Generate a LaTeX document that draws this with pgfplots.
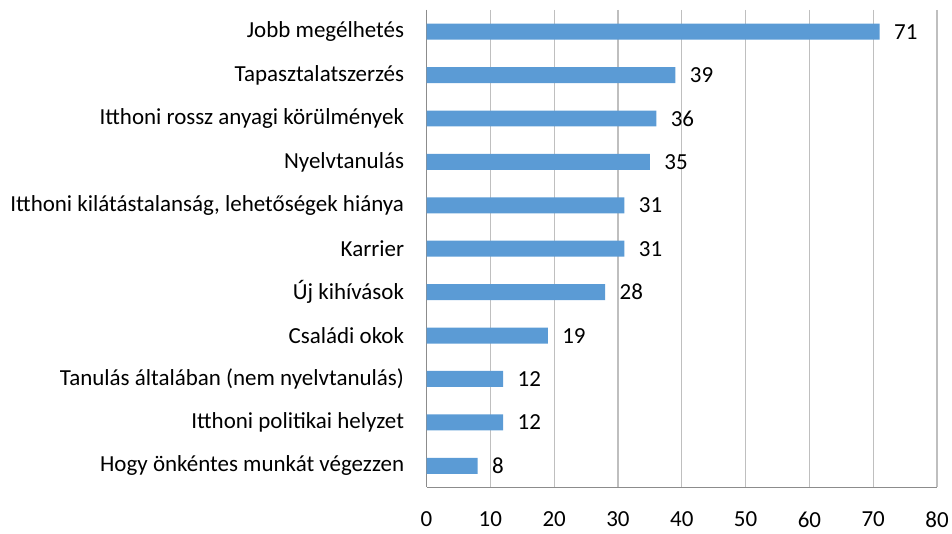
\documentclass[border=0pt]{standalone}
\usepackage{pgfplots}
\pgfplotsset{compat=1.18}
\usepackage{fontspec}
\setmainfont{Carlito}
\definecolor{barblue}{HTML}{5B9BD5}
\definecolor{gridgray}{HTML}{BFBFBF}
\definecolor{axisgray}{HTML}{8C8C8C}
\begin{document}%
\begin{tikzpicture}[font=\fontsize{23}{27}\selectfont]
\begin{axis}[
  scale only axis,
  width=511pt, height=478pt,
  xbar, bar width=16pt,
  xmin=0, xmax=80,
  ymin=-0.5, ymax=10.5,
  y dir=reverse,
  xtick={0,10,...,80},
  ytick={0,...,10},
  yticklabels={Jobb megélhetés, Tapasztalatszerzés, Itthoni rossz anyagi körülmények, Nyelvtanulás, {Itthoni kilátástalanság, lehetőségek hiánya}, Karrier, Új kihívások, Családi okok, Tanulás általában (nem nyelvtanulás), Itthoni politikai helyzet, Hogy önkéntes munkát végezzen},
  /pgf/number format/assume math mode=true,
  ticklabel style={font=\fontsize{23}{27}\selectfont},
  xticklabel style={yshift=-21pt},
  yticklabel style={xshift=-19pt},
  major tick length=0pt,
  xmajorgrids, grid style={gridgray, line width=1.2pt},
  axis x line*=bottom, axis y line*=left,
  axis line style={axisgray, line width=1.5pt},
  x axis line style={-}, y axis line style={-},
  clip=false,
  nodes near coords,
  point meta=x,
  nodes near coords style={anchor=west, xshift=11pt, font=\fontsize{23}{27}\selectfont, black},
]
\addplot[fill=barblue, draw=none] coordinates {
(71,0) (39,1) (36,2) (35,3) (31,4) (31,5) (28,6) (19,7) (12,8) (12,9) (8,10)
};
\path[use as bounding box] (axis description cs:-0.8356,-0.0962) rectangle (axis description cs:1.0274,1.0209);
\end{axis}
\end{tikzpicture}%
\end{document}
